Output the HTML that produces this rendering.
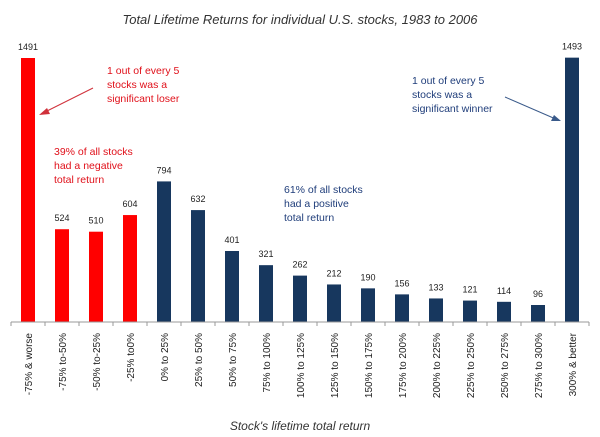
<!DOCTYPE html>
<html><head><meta charset="utf-8"><style>
body{margin:0;background:#fff;}
svg{display:block;font-family:"Liberation Sans",sans-serif;}
</style></head><body>
<svg id="chart" width="600" height="437">
<text x="300" y="24" text-anchor="middle" font-size="13" font-style="italic" fill="#333">Total Lifetime Returns for individual U.S. stocks, 1983 to 2006</text>
<text x="300" y="430" text-anchor="middle" font-size="12" font-style="italic" fill="#333">Stock's lifetime total return</text>
<g id="bars"></g>
<line x1="11" y1="322" x2="589" y2="322" stroke="#999"/>
<g font-size="10.5" fill="#e0101a">
<text x="107" y="74">1 out  of every 5</text><text x="107" y="88">stocks was a</text><text x="107" y="102">significant loser</text></g>
<line x1="93" y1="88" x2="41" y2="114" stroke="#d0303a"/>
<polygon points="39,115 47,108 50,114" fill="#d0303a"/>
<g font-size="10.5" fill="#e0101a">
<text x="54" y="155">39% of all stocks</text><text x="54" y="169">had a negative</text><text x="54" y="183">total return</text></g>
<g font-size="10.5" fill="#1f3d7a">
<text x="284" y="193">61% of all stocks</text><text x="284" y="207">had a positive</text><text x="284" y="221">total return</text></g>
<g font-size="10.5" fill="#1f3d7a">
<text x="412" y="84">1 out of every 5</text><text x="412" y="98">stocks was a</text><text x="412" y="112">significant winner</text></g>
<line x1="505" y1="97" x2="558" y2="120" stroke="#3a5a8a"/>
<polygon points="561,121 551,121 554,115" fill="#3a5a8a"/>
</svg>
<script>
const categories=["-75% & worse","-75% to-50%","-50% to-25%","-25% to0%","0% to 25%","25% to 50%","50% to 75%","75% to 100%","100% to 125%","125% to 150%","150% to 175%","175% to 200%","200% to 225%","225% to 250%","250% to 275%","275% to 300%","300% & better"];
const counts=[1491,524,510,604,794,632,401,321,262,212,190,156,133,121,114,96,1493];
const negativeCount=4;
const ns="http://www.w3.org/2000/svg";
const x0=11,x1=589,yBase=322,yTop=58,maxV=1491;
const band=(x1-x0)/categories.length;
function xc(i){return x0+band*(i+0.5);}
function y(v){return yBase-(yBase-yTop)*v/maxV;}
const g=document.getElementById('bars');
categories.forEach((c,i)=>{
  const v=counts[i];
  const r=document.createElementNS(ns,'rect');
  r.setAttribute('x',xc(i)-7);r.setAttribute('width',14);
  r.setAttribute('y',y(v));r.setAttribute('height',yBase-y(v));
  r.setAttribute('fill',i<negativeCount?'#ff0000':'#17375e');
  
  
  g.appendChild(r);
  const t=document.createElementNS(ns,'text');
  t.setAttribute('x',xc(i));t.setAttribute('y',y(v)-8);
  t.setAttribute('text-anchor','middle');t.setAttribute('font-size','9');t.setAttribute('fill','#222');
  t.textContent=v;
  
  
  g.appendChild(t);
  const tk=document.createElementNS(ns,'line');
  tk.setAttribute('x1',x0+band*i);tk.setAttribute('x2',x0+band*i);
  tk.setAttribute('y1',yBase);tk.setAttribute('y2',yBase+4);tk.setAttribute('stroke','#999');
  
  
  g.appendChild(tk);
  const l=document.createElementNS(ns,'text');
  l.setAttribute('transform','translate('+(xc(i)+4)+','+(yBase+11)+') rotate(-90)');
  l.setAttribute('text-anchor','end');l.setAttribute('font-size','10');l.setAttribute('fill','#222');
  l.textContent=c;
  
  
  g.appendChild(l);
});
const tk=document.createElementNS(ns,'line');
tk.setAttribute('x1',x1);tk.setAttribute('x2',x1);tk.setAttribute('y1',yBase);tk.setAttribute('y2',yBase+4);tk.setAttribute('stroke','#999');


g.appendChild(tk);
</script>
</body></html>
